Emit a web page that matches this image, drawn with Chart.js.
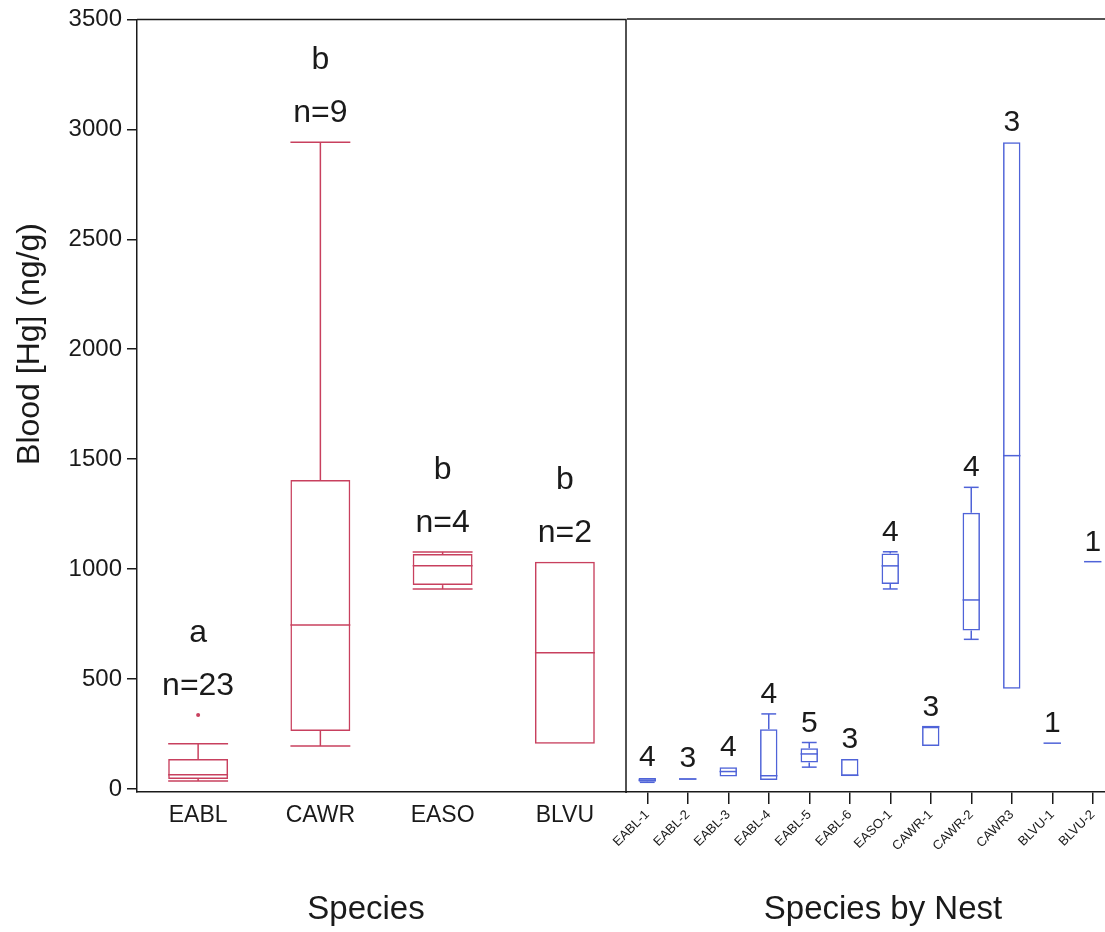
<!DOCTYPE html>
<html>
<head>
<meta charset="utf-8">
<script src="https://cdn.jsdelivr.net/npm/chart.js@4"></script>
<style>
  html, body { margin: 0; padding: 0; background: #fff; overflow: hidden; }
  #wrap { position: relative; width: 1105px; height: 932px; overflow: hidden; }
  canvas { position: absolute; top: 0; }
  #left { left: 0; }
  #right { left: 596px; }
</style>
</head>
<body>
<div id="wrap">
  <canvas id="left" width="628" height="932"></canvas>
  <canvas id="right" width="522" height="932"></canvas>
</div>
<script>
/* ===== DATA ===== */
const yTicks = [0, 500, 1000, 1500, 2000, 2500, 3000, 3500];

const species = ["EABL", "CAWR", "EASO", "BLVU"];
const speciesMin = [36, 195, 909, 205];
const speciesQ1 = [45, 264, 927, 205];
const speciesMedian = [64, 745, 1015, 619];
const speciesQ3 = [136, 1405, 1068, 1033];
const speciesMax = [205, 2941, 1078, 1033];
const speciesOutliers = [[336], [], [], []];
const speciesGroup = ["a", "b", "b", "b"];
const speciesN = [23, 9, 4, 2];

const nests = ["EABL-1", "EABL-2", "EABL-3", "EABL-4", "EABL-5", "EABL-6",
               "EASO-1", "CAWR-1", "CAWR-2", "CAWR3", "BLVU-1", "BLVU-2"];
const nestMin = [30, 40, 56, 41, 99, 59, 909, 195, 680, 455, 208, 1033];
const nestQ1 = [33, 42, 56, 41, 120, 59, 932, 195, 720, 455, 208, 1033];
const nestMedian = [40, 45, 79, 60, 159, 62, 1014, 283, 859, 1515, 208, 1033];
const nestQ3 = [50, 48, 99, 271, 185, 136, 1070, 283, 1256, 2940, 208, 1033];
const nestMax = [52, 50, 99, 341, 211, 136, 1078, 283, 1371, 2940, 208, 1033];
const nestN = [4, 3, 4, 4, 5, 3, 4, 3, 4, 3, 1, 1];

/* ===== STYLE ===== */
const FONT = "'Liberation Sans', Arial, sans-serif";
const INK = "#1a1a1a";
const RED = "#c8405e";
const BLUE = "#4f63d8";
const Y_MIN = -14, Y_MAX = 3500;

Chart.defaults.font.family = FONT;
Chart.defaults.color = INK;

/* ===== PLUGINS ===== */
function boxPlugin(id, s, color, capRatio, drawLabel) {
  return {
    id,
    afterDatasetsDraw(chart) {
      const { ctx } = chart;
      const y = chart.scales.y;
      const seg = (x1, y1, x2, y2) => {
        ctx.beginPath(); ctx.moveTo(x1, y1); ctx.lineTo(x2, y2); ctx.stroke();
      };
      ctx.save();
      ctx.lineWidth = 1.5;
      chart.getDatasetMeta(0).data.forEach((bar, i) => {
        const cx = bar.x, half = bar.width / 2, cap = half * capRatio;
        const pQ1 = y.getPixelForValue(s.q1[i]), pQ3 = y.getPixelForValue(s.q3[i]);
        const pMin = y.getPixelForValue(s.min[i]), pMax = y.getPixelForValue(s.max[i]);
        const pMed = y.getPixelForValue(s.median[i]);
        ctx.strokeStyle = color;
        ctx.fillStyle = color;
        if (pMax < pQ3 - 0.5) { seg(cx, pQ3, cx, pMax); seg(cx - cap, pMax, cx + cap, pMax); }
        if (pMin > pQ1 + 0.5) { seg(cx, pQ1, cx, pMin); seg(cx - cap, pMin, cx + cap, pMin); }
        seg(cx - half, pMed, cx + half, pMed);
        let top = pMax;
        (s.outliers ? s.outliers[i] : []).forEach(v => {
          const py = y.getPixelForValue(v);
          ctx.beginPath(); ctx.arc(cx, py, 2, 0, Math.PI * 2); ctx.fill();
          top = Math.min(top, py);
        });
        ctx.fillStyle = INK;
        ctx.textAlign = "center";
        ctx.textBaseline = "alphabetic";
        drawLabel(ctx, i, cx, top);
      });
      ctx.restore();
    }
  };
}

function framePlugin(withRight) {
  return {
    id: "frame",
    afterDraw(chart) {
      const { ctx, chartArea: a } = chart;
      ctx.save();
      ctx.strokeStyle = INK;
      ctx.lineWidth = 1.5;
      ctx.beginPath();
      ctx.moveTo(a.left, a.top);
      ctx.lineTo(withRight ? a.right : chart.width, a.top);
      if (withRight) ctx.lineTo(a.right, a.bottom + 1);
      ctx.stroke();
      ctx.restore();
    }
  };
}

function titlePlugin(items) {
  return {
    id: "titles",
    afterDraw(chart) {
      const { ctx } = chart;
      ctx.save();
      ctx.fillStyle = INK;
      ctx.textAlign = "center";
      ctx.textBaseline = "middle";
      items.forEach(t => {
        ctx.save();
        ctx.font = `${t.size}px ${FONT}`;
        ctx.translate(t.x, t.y);
        if (t.rot) ctx.rotate(t.rot);
        ctx.fillText(t.text, 0, 0);
        ctx.restore();
      });
      ctx.restore();
    }
  };
}

/* ===== LEFT: SPECIES ===== */
new Chart(document.getElementById("left"), {
  type: "bar",
  data: {
    labels: species,
    datasets: [{
      data: speciesQ1.map((v, i) => [v, speciesQ3[i]]),
      backgroundColor: "rgba(0,0,0,0)",
      borderColor: RED,
      borderWidth: 1.5,
      borderSkipped: false,
      barPercentage: 0.49,
      categoryPercentage: 1
    }]
  },
  options: {
    responsive: false,
    animation: false,
    events: [],
    devicePixelRatio: 1,
    layout: { padding: { top: 19, right: 2, left: 0, bottom: 0 } },
    plugins: { legend: { display: false }, tooltip: { enabled: false } },
    scales: {
      x: {
        afterFit: s => { s.height = 140; },
        ticks: { font: { size: 23 }, color: INK, padding: 10 },
        grid: { drawOnChartArea: false, drawTicks: false },
        border: { color: INK, width: 1.5 }
      },
      y: {
        min: Y_MIN, max: Y_MAX,
        afterBuildTicks: s => { s.ticks = yTicks.map(v => ({ value: v })); },
        afterFit: s => { s.width = 137; },
        ticks: { font: { size: 24 }, color: INK, padding: 5, callback: v => String(v) },
        grid: { drawOnChartArea: false, tickLength: 10, color: INK, lineWidth: 1.5 },
        border: { color: INK, width: 1.5 }
      }
    }
  },
  plugins: [
    boxPlugin("speciesBoxes",
      { min: speciesMin, q1: speciesQ1, median: speciesMedian, q3: speciesQ3, max: speciesMax, outliers: speciesOutliers },
      RED, 1,
      (ctx, i, cx, top) => {
        ctx.font = `32px ${FONT}`;
        ctx.fillText("n=" + speciesN[i], cx, top - 20);
        ctx.fillText(speciesGroup[i], cx, top - 73);
      }),
    framePlugin(true),
    titlePlugin([
      { text: "Blood [Hg] (ng/g)", x: 30, y: 344, size: 32, rot: -Math.PI / 2 },
      { text: "Species", x: 366, y: 910, size: 33 }
    ])
  ]
});

/* ===== RIGHT: SPECIES BY NEST ===== */
new Chart(document.getElementById("right"), {
  type: "bar",
  data: {
    labels: nests,
    datasets: [{
      data: nestQ1.map((v, i) => [v, nestQ3[i]]),
      backgroundColor: "rgba(0,0,0,0)",
      borderColor: BLUE,
      borderWidth: 1.5,
      borderSkipped: false,
      barPercentage: 0.43,
      categoryPercentage: 1
    }]
  },
  options: {
    responsive: false,
    animation: false,
    events: [],
    devicePixelRatio: 1,
    layout: { padding: { top: 19, right: 5, left: 31, bottom: 0 } },
    plugins: { legend: { display: false }, tooltip: { enabled: false } },
    scales: {
      x: {
        afterFit: s => { s.height = 140; },
        ticks: { autoSkip: false, minRotation: 45, maxRotation: 45, font: { size: 13 }, color: INK, padding: 3 },
        grid: { offset: false, drawOnChartArea: false, drawTicks: true, tickLength: 12, color: INK, lineWidth: 1.5 },
        border: { color: INK, width: 1.5 }
      },
      y: { display: false, min: Y_MIN, max: Y_MAX }
    }
  },
  plugins: [
    boxPlugin("nestBoxes",
      { min: nestMin, q1: nestQ1, median: nestMedian, q3: nestQ3, max: nestMax },
      BLUE, 0.85,
      (ctx, i, cx, top) => {
        ctx.font = `30px ${FONT}`;
        ctx.fillText(String(nestN[i]), cx, top - 11);
      }),
    framePlugin(false),
    titlePlugin([
      { text: "Species by Nest", x: 287, y: 910, size: 33 }
    ])
  ]
});
</script>
</body>
</html>
